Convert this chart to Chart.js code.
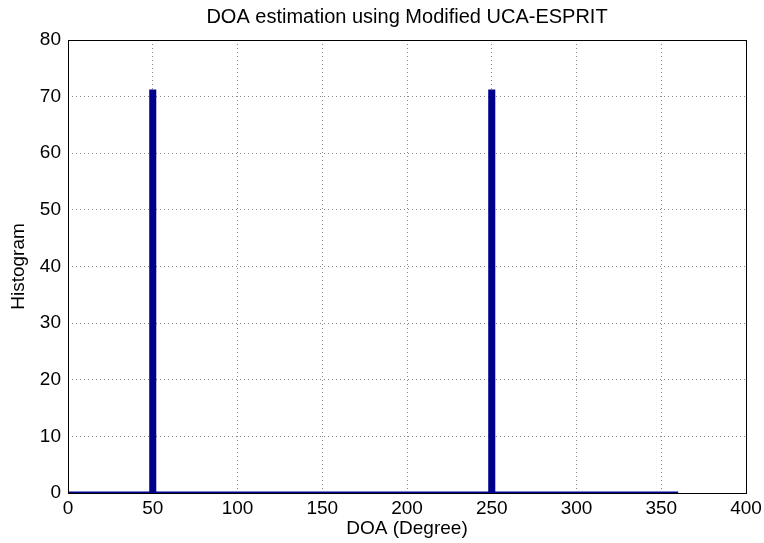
<!DOCTYPE html>
<html><head><meta charset="utf-8">
<script src="https://cdn.jsdelivr.net/npm/chart.js@4/dist/chart.umd.min.js"></script>
<style>html,body{margin:0;padding:0;background:#fff}canvas{display:block}</style>
</head><body>
<canvas id="c" width="764" height="543"></canvas>
<script>
const chartTitle = 'DOA estimation using Modified UCA-ESPRIT';
const doaDegrees = [0, 48.8, 48.8, 51.2, 51.2, 248.8, 248.8, 251.2, 251.2, 360];
const histogramCounts = [0, 0, 71, 71, 0, 0, 71, 71, 0, 0];
const xTicks = [0, 50, 100, 150, 200, 250, 300, 350, 400];
const yTicks = [0, 10, 20, 30, 40, 50, 60, 70, 80];

const points = doaDegrees.map((x, i) => ({x: x, y: histogramCounts[i]}));
const fontFamily = '"Liberation Sans", Arial, sans-serif';
const font = {family: fontFamily, size: 19, weight: 'normal'};

const frame = {
  id: 'frame',
  afterDraw(chart) {
    const a = chart.chartArea, ctx = chart.ctx;
    ctx.save(); ctx.strokeStyle = '#000'; ctx.lineWidth = 1;
    ctx.strokeRect(Math.round(a.left) + 0.5, Math.round(a.top) + 0.5, Math.round(a.right - a.left), Math.round(a.bottom - a.top));
    ctx.fillStyle = '#000';
    ctx.font = '20px ' + fontFamily;
    ctx.textAlign = 'center'; ctx.textBaseline = 'middle';
    ctx.fillText(chartTitle, (a.left + a.right) / 2, 17);
    ctx.restore();
  }
};

new Chart(document.getElementById('c'), {
  type: 'line',
  data: { datasets: [{
    data: points,
    borderColor: '#00008C',
    backgroundColor: '#00008C',
    borderWidth: 3,
    fill: 'origin',
    pointRadius: 0,
    tension: 0
  }]},
  options: {
    responsive: false,
    animation: false,
    layout: {padding: {left: 0, right: 0, top: 40, bottom: 0}},
    plugins: {
      legend: {display: false},
      tooltip: {enabled: false},
      title: {display: false}
    },
    scales: {
      x: {
        type: 'linear', min: 0, max: 400,
        afterBuildTicks: s => { s.ticks = xTicks.map(v => ({value: v})); },
        afterFit: s => { s.height = 50; s.paddingRight = 18; s.paddingLeft = 0; },
        ticks: {color: '#000', font: font, padding: 4, maxRotation: 0},
        grid: {color: '#8a8a8a', drawTicks: false},
        border: {display: false, dash: [1, 3]},
        title: {display: true, text: 'DOA (Degree)', color: '#000', font: font, padding: {top: 3, bottom: 3}}
      },
      y: {
        min: 0, max: 80,
        afterBuildTicks: s => { s.ticks = yTicks.map(v => ({value: v})); },
        afterFit: s => { s.width = 68; s.paddingTop = 0; },
        ticks: {color: '#000', font: font, padding: 7},
        grid: {color: '#8a8a8a', drawTicks: false},
        border: {display: false, dash: [1, 3]},
        title: {display: true, text: 'Histogram', color: '#000', font: font, padding: {top: 7, bottom: 0}}
      }
    }
  },
  plugins: [frame]
});
</script>
</body></html>
